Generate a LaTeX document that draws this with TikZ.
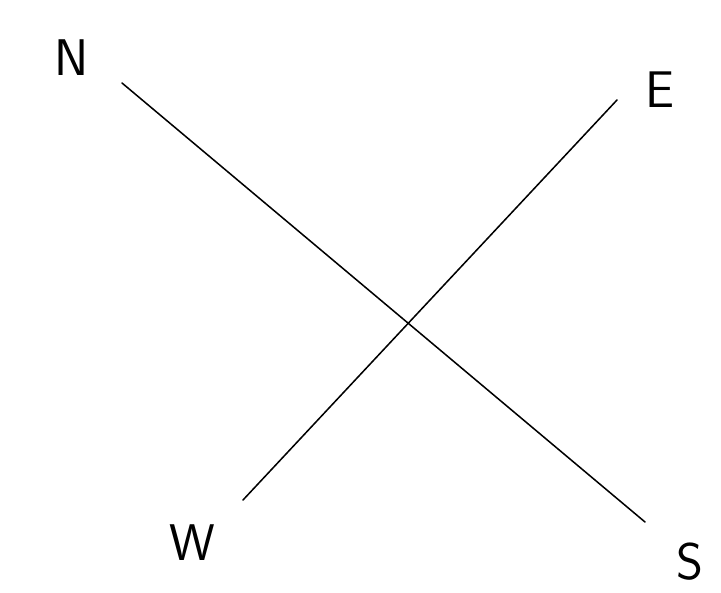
\documentclass[tikz,border=0pt]{standalone}
\usepackage{tikz}
\usetikzlibrary{positioning}

\tikzset{
  dirlabel/.style={font=\sffamily\fontsize{44}{48}\selectfont,inner sep=0pt},
  axisline/.style={line width=1.3pt,line cap=round}
}

\begin{document}
\begin{tikzpicture}[x=0.03cm,y=-0.03cm]
  \useasboundingbox (0,0) rectangle (721,593);
  % ends of the two lines
  \coordinate (nend) at (122,83);
  \coordinate (send) at (645,522);
  \coordinate (wend) at (243,500);
  \coordinate (eend) at (617,100);
  \draw[axisline] (nend) -- (send);
  \draw[axisline] (wend) -- (eend);
  % compass letters
  \node[dirlabel] (north) at (72,58) {N};
  \node[dirlabel] (east) at (660,90) {E};
  \node[dirlabel] (west) at (192,543) {W};
  \node[dirlabel] (south) at (690,562) {S};
\end{tikzpicture}
\end{document}
